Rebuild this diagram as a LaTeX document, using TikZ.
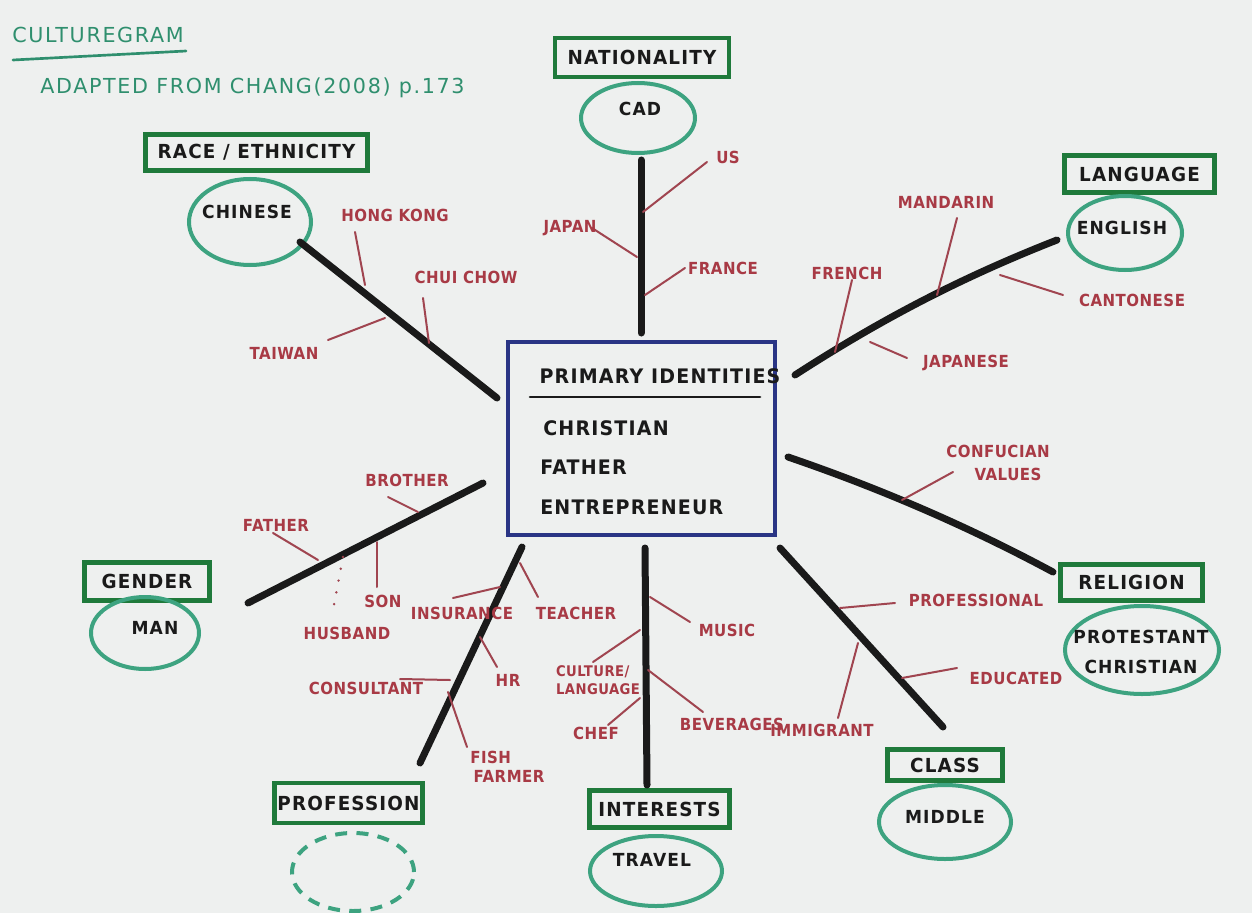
\documentclass[tikz,border=0pt]{standalone}
\usepackage{fontspec}
\usetikzlibrary{shapes.geometric}
\setmainfont{DejaVu Sans}
\newfontfamily\hand{DejaVu Sans}[FakeStretch=0.9, LetterSpace=3]
\newfontfamily\handw{DejaVu Sans}[FakeStretch=0.95, LetterSpace=6]
\newfontfamily\handt{DejaVu Sans}[LetterSpace=8]
\newcommand\myred{\hand\bfseries\fontsize{12.5}{14}\selectfont}
\newcommand\mybox{\handw\bfseries\fontsize{14.5}{16}\selectfont}
\newcommand\myell{\handw\bfseries\fontsize{13.5}{15}\selectfont}
\newcommand\mycore{\handw\bfseries\fontsize{15}{17}\selectfont}
\newcommand\mytitle{\handt\fontsize{15.5}{17}\selectfont}
\definecolor{paper}{HTML}{EEF0EF}
\definecolor{boxgreen}{HTML}{1F7A3B}
\definecolor{ellgreen}{HTML}{3DA380}
\definecolor{redtext}{HTML}{A83A45}
\definecolor{redline}{HTML}{A04550}
\definecolor{inkblack}{HTML}{1A1A1A}
\definecolor{coreblue}{HTML}{2A3585}
\definecolor{titlegreen}{HTML}{2F8F6E}
\newcommand\branch[3]{\coordinate (#1a) at #2; \coordinate (#1b) at #3; \draw[br] (#1a) -- (#1b);}
\begin{document}
\begin{tikzpicture}[x=0.75pt,y=-0.75pt,
  spoke/.style={line width=5.25pt, draw=inkblack, line cap=round},
  br/.style={line width=1.5pt, draw=redline, line cap=round},
  rlab/.style={font=\myred, text=redtext, inner sep=0pt},
  catbox/.style={draw=boxgreen, line width=3.6pt, font=\mybox, text=inkblack, inner sep=0pt},
  ell/.style={ellipse, draw=ellgreen, line width=3pt, inner sep=0pt},
  ink/.style={font=\myell, text=inkblack, inner sep=0pt},
  core/.style={font=\mycore, text=inkblack, inner sep=0pt},
  ttl/.style={font=\mytitle, text=titlegreen, inner sep=0pt},
]
\useasboundingbox (0,0) rectangle (1252,913);
\fill[paper] (0,0) rectangle (1252,913);

% title
\node[ttl, anchor=west] (title) at (12,35) {CULTUREGRAM};
\coordinate (ulA) at (13,60); \coordinate (ulB) at (186,51);
\draw[titlegreen, line width=2pt, line cap=round] (ulA) -- (ulB);
\node[ttl, anchor=west] (source) at (40,88) {ADAPTED FROM CHANG(2008) p.173};

% core box
\node[draw=coreblue, line width=3pt, minimum width=267*0.75pt, minimum height=193*0.75pt, inner sep=0pt] (core) at (641.5,438.5) {};
\node[core] (coreHead) at (660,376) {PRIMARY IDENTITIES};
\coordinate (chA) at (530,397); \coordinate (chB) at (760,397);
\draw[inkblack, line width=2pt, line cap=round] (chA) -- (chB);
\node[core, anchor=west] (c1) at (543,428) {CHRISTIAN};
\node[core, anchor=west] (c2) at (540,467) {FATHER};
\node[core, anchor=west] (c3) at (540,507) {ENTREPRENEUR};

% category boxes
\node[catbox, minimum width=174*0.75pt, minimum height=39*0.75pt] (natBox) at (642,57.5) {NATIONALITY};
\node[catbox, minimum width=222*0.75pt, minimum height=36*0.75pt] (raceBox) at (256.5,152.5) {RACE / ETHNICITY};
\node[catbox, minimum width=150*0.75pt, minimum height=37*0.75pt] (langBox) at (1139.5,174) {LANGUAGE};
\node[catbox, minimum width=142*0.75pt, minimum height=36*0.75pt] (relBox) at (1131.5,582.5) {RELIGION};
\node[catbox, minimum width=115*0.75pt, minimum height=31*0.75pt] (classBox) at (945,765) {CLASS};
\node[catbox, minimum width=140*0.75pt, minimum height=37*0.75pt] (intBox) at (659.5,809) {INTERESTS};
\node[catbox, minimum width=148*0.75pt, minimum height=40*0.75pt] (profBox) at (348.5,803) {PROFESSION};
\node[catbox, minimum width=125*0.75pt, minimum height=38*0.75pt] (genBox) at (147,581.5) {GENDER};

% ellipses
\node[ell, minimum width=114*0.75pt, minimum height=70*0.75pt] (natE) at (638,118) {};
\node[ink] (natT) at (640,109) {CAD};
\node[ell, minimum width=122*0.75pt, minimum height=86*0.75pt] (raceE) at (250,222) {};
\node[ink] (raceT) at (247,212) {CHINESE};
\node[ell, minimum width=114*0.75pt, minimum height=74*0.75pt] (langE) at (1125,233) {};
\node[ink] (langT) at (1122,228) {ENGLISH};
\node[ell, minimum width=154*0.75pt, minimum height=88*0.75pt] (relE) at (1142,650) {};
\node[ink, align=center, font=\handw\bfseries\fontsize{13.5}{23}\selectfont] (relT) at (1141,652) {PROTESTANT\\CHRISTIAN};
\node[ell, minimum width=132*0.75pt, minimum height=74*0.75pt] (classE) at (945,822) {};
\node[ink] (classT) at (945,817) {MIDDLE};
\node[ell, minimum width=132*0.75pt, minimum height=70*0.75pt] (intE) at (656,871) {};
\node[ink] (intT) at (652,860) {TRAVEL};
\node[ell, dashed, dash pattern=on 9pt off 7pt, minimum width=122*0.75pt, minimum height=78*0.75pt] (profE) at (353,872) {};
\node[ell, minimum width=108*0.75pt, minimum height=72*0.75pt] (genE) at (145,633) {};
\node[ink] (genT) at (155,628) {MAN};

% spokes
\coordinate (natS1) at (641,160); \coordinate (natS2) at (641,333);
\draw[spoke] (natS1) -- (natS2);
\coordinate (raceS1) at (300,242); \coordinate (raceS2) at (497,398);
\draw[spoke] (raceS1) -- (raceS2);
\coordinate (langS1) at (795,375); \coordinate (langS2) at (1057,240);
\draw[spoke] (langS1) .. controls (880,320) and (960,278) .. (langS2);
\coordinate (relS1) at (788,457); \coordinate (relS2) at (1053,572);
\draw[spoke] (relS1) .. controls (870,485) and (960,522) .. (relS2);
\coordinate (classS1) at (780,548); \coordinate (classS2) at (943,727);
\draw[spoke] (classS1) -- (classS2);
\coordinate (intS1) at (645,548); \coordinate (intS2) at (647,785);
\draw[spoke] (intS1) -- (intS2);
\coordinate (profS1) at (522,547); \coordinate (profS2) at (420,763);
\draw[spoke] (profS1) -- (profS2);
\coordinate (genS1) at (483,483); \coordinate (genS2) at (248,603);
\draw[spoke] (genS1) -- (genS2);

% nationality branches
\branch{us}{(643,212)}{(707,162)}
\node[rlab] (usL) at (728,157) {US};
\branch{jp}{(637,257)}{(592,228)}
\node[rlab] (jpL) at (570,228) {JAPAN};
\branch{fr}{(645,295)}{(685,268)}
\node[rlab] (frL) at (723,268) {FRANCE};

% race branches
\branch{hk}{(365,285)}{(355,232)}
\node[rlab] (hkL) at (395,215) {HONG KONG};
\branch{cc}{(429,343)}{(423,298)}
\node[rlab] (ccL) at (466,277) {CHUI CHOW};
\branch{tw}{(385,318)}{(328,340)}
\node[rlab] (twL) at (284,353) {TAIWAN};

% language branches
\branch{md}{(937,295)}{(957,218)}
\node[rlab] (mdL) at (946,202) {MANDARIN};
\branch{fn}{(835,352)}{(852,280)}
\node[rlab] (fnL) at (847,273) {FRENCH};
\branch{ct}{(1000,275)}{(1063,295)}
\node[rlab] (ctL) at (1132,300) {CANTONESE};
\branch{ja}{(870,342)}{(907,358)}
\node[rlab] (jaL) at (966,363) {JAPANESE};

% religion branch
\branch{cf}{(902,500)}{(953,472)}
\node[rlab, align=center, font=\hand\bfseries\fontsize{12.5}{17}\selectfont] (cfL) at (998,463) {CONFUCIAN\\\hspace*{1.2em}VALUES};

% class branches
\branch{pr}{(840,608)}{(895,603)}
\node[rlab] (prL) at (976,600) {PROFESSIONAL};
\branch{ed}{(902,678)}{(957,668)}
\node[rlab] (edL) at (1016,678) {EDUCATED};
\branch{im}{(858,643)}{(838,718)}
\node[rlab] (imL) at (822,730) {IMMIGRANT};

% interests branches
\branch{mu}{(650,597)}{(690,622)}
\node[rlab] (muL) at (727,630) {MUSIC};
\branch{cu}{(640,630)}{(593,662)}
\node[rlab, align=left, font=\hand\bfseries\fontsize{11}{14}\selectfont] (cuL) at (598,680) {CULTURE/\\LANGUAGE};
\branch{ch}{(640,698)}{(608,725)}
\node[rlab] (chL) at (596,733) {CHEF};
\branch{bv}{(648,670)}{(703,712)}
\node[rlab] (bvL) at (732,724) {BEVERAGES};

% profession branches
\branch{te}{(520,563)}{(538,597)}
\node[rlab] (teL) at (576,613) {TEACHER};
\branch{in}{(500,587)}{(453,598)}
\node[rlab] (inL) at (462,613) {INSURANCE};
\branch{hr}{(480,637)}{(497,667)}
\node[rlab] (hrL) at (508,680) {HR};
\branch{co}{(450,680)}{(400,679)}
\node[rlab] (coL) at (366,688) {CONSULTANT};
\branch{fi}{(448,692)}{(467,747)}
\node[rlab, align=left, anchor=west, font=\hand\bfseries\fontsize{12.5}{14.5}\selectfont] (fiL) at (470,767) {FISH\\\hspace*{0.2em}FARMER};

% gender branches
\branch{bro}{(418,512)}{(388,497)}
\node[rlab] (broL) at (407,480) {BROTHER};
\branch{fa}{(318,560)}{(273,533)}
\node[rlab] (faL) at (276,525) {FATHER};
\branch{so}{(377,542)}{(377,587)}
\node[rlab] (soL) at (383,601) {SON};
\coordinate (huA) at (343,557); \coordinate (huB) at (333,610);
\draw[redline, line width=2pt, line cap=round, dash pattern=on 0pt off 9pt] (huA) -- (huB);
\node[rlab] (huL) at (347,633) {HUSBAND};
\end{tikzpicture}
\end{document}
